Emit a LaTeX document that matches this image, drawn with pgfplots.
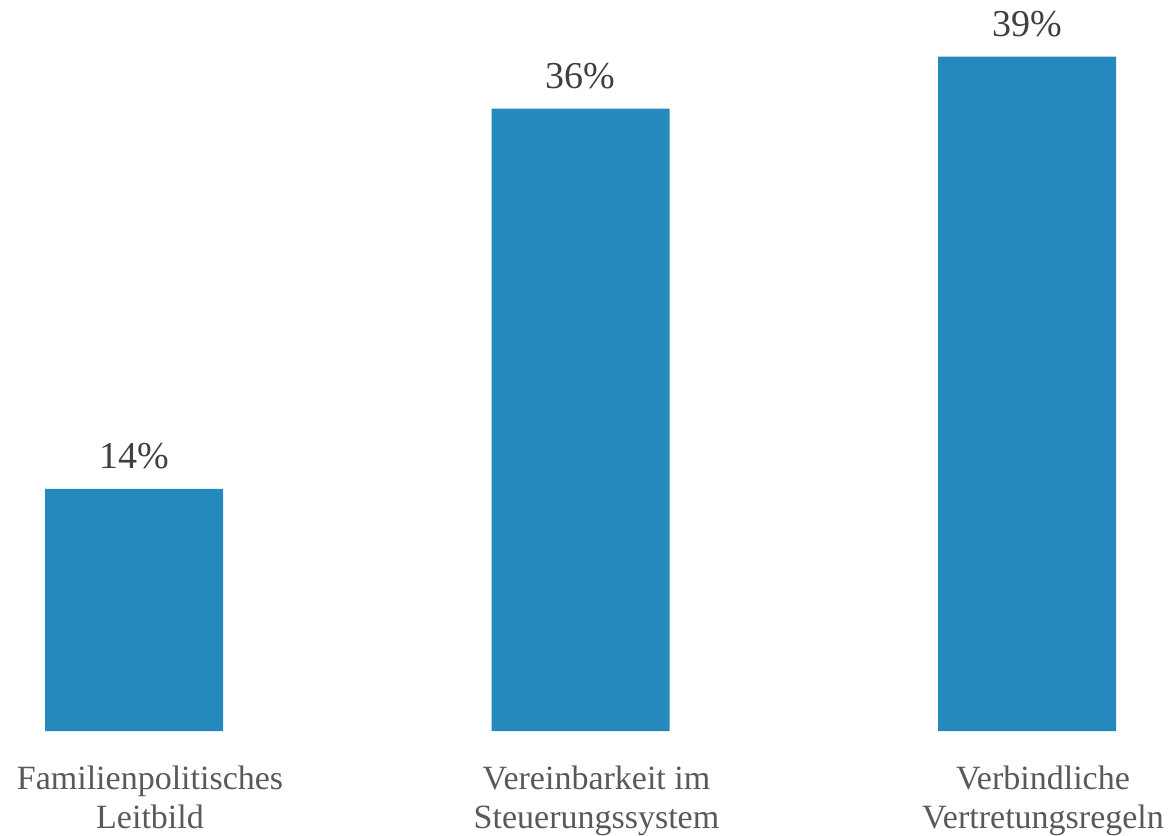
\documentclass[border=0pt]{standalone}
\usepackage{fontspec}
\setmainfont{Liberation Serif}
\usepackage{pgfplots}
\pgfplotsset{compat=1.18}
\definecolor{barblue}{HTML}{2689BE}
\definecolor{labgray}{HTML}{595959}
\definecolor{valgray}{HTML}{404040}
\begin{document}
\begin{tikzpicture}
\begin{axis}[
  at={(0pt,0pt)}, anchor=south west,
  scale only axis,
  width=588pt, height=365.5pt,
  xmin=-0.30011, xmax=2.33371,
  ymin=0, ymax=42.28,
  axis line style={draw=none},
  ytick=\empty,
  xtick={0,1,2},
  xticklabels={{Familienpolitisches\\Leitbild},{Vereinbarkeit im\\Steuerungssystem},{Verbindliche\\Vertretungsregeln}},
  major tick length=0pt,
  xtick style={draw=none},
  xticklabel style={align=center, anchor=north, text=labgray,
    font=\fontsize{17}{19.5}\selectfont, yshift=-14pt, xshift=8pt},
  /pgf/number format/assume math mode=true,
  ybar, bar width=89pt,
  nodes near coords={\pgfmathprintnumber{\pgfplotspointmeta}\%},
  nodes near coords style={anchor=base, yshift=10pt, text=valgray,
    font=\fontsize{19}{22}\selectfont},
  clip=false,
]
\addplot[fill=barblue, draw=none] coordinates {(0,14) (1,36) (2,39)};
\end{axis}
\pgfresetboundingbox
\useasboundingbox (0,-52pt) rectangle (588pt,365.5pt);
\end{tikzpicture}
\end{document}
